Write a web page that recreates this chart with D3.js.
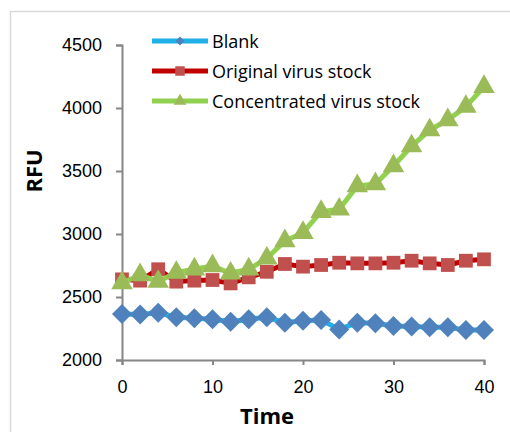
<!DOCTYPE html>
<html>
<head>
<meta charset="utf-8">
<script src="https://cdn.jsdelivr.net/npm/d3@7"></script>
<style>
  body { margin: 0; background: #fff; }
  svg { display: block; font-family: "Open Sans", "Liberation Sans", sans-serif; }
</style>
</head>
<body>
<svg id="chart" width="510" height="432"></svg>
<script>
// readings, time 0..40 step 2
var times = [0, 2, 4, 6, 8, 10, 12, 14, 16, 18, 20, 22, 24, 26, 28, 30, 32, 34, 36, 38, 40];
var blank = [2365, 2362, 2375, 2339, 2331, 2323, 2304, 2323, 2339, 2296, 2312,
             2317, 2243, 2296, 2291, 2270, 2265, 2259, 2259, 2238, 2238];
var original = [2640, 2630, 2720, 2622, 2630, 2635, 2608, 2656, 2700, 2762, 2741,
                2754, 2772, 2767, 2767, 2772, 2788, 2767, 2754, 2788, 2799];
var concentrated = [2611, 2675, 2622, 2694, 2720, 2746, 2688, 2720, 2807, 2945, 3010,
                    3177, 3196, 3381, 3397, 3540, 3698, 3825, 3905, 4011, 4169];
var seriesNames = ['Blank', 'Original virus stock', 'Concentrated virus stock'];
var yTicks = [2000, 2500, 3000, 3500, 4000, 4500];
var xTicks = [0, 10, 20, 30, 40];

var svg = d3.select('#chart');

// outer chart frame (right/bottom edges run off the picture)
svg.append('rect').attr('x', 10.5).attr('y', 11.5).attr('width', 520).attr('height', 440)
  .attr('fill', 'none').attr('stroke', '#d9d9d9').attr('stroke-width', 1.5);

var x = d3.scaleLinear().domain([0, 40]).range([122, 484]);
var y = d3.scaleLinear().domain([2000, 4500]).range([360, 45]);

var axisColor = '#868686';

var yAxis = svg.append('g').attr('transform', 'translate(122,0)')
  .call(d3.axisLeft(y).tickValues(yTicks).tickSize(6).tickPadding(14).tickFormat(d3.format('d')));
var xAxis = svg.append('g').attr('transform', 'translate(0,360)')
  .call(d3.axisBottom(x).tickValues(xTicks).tickSize(5).tickPadding(15));
[xAxis, yAxis].forEach(function(a) {
  a.select('.domain').attr('stroke', axisColor).attr('stroke-width', 2);
  a.selectAll('.tick line').attr('stroke', axisColor).attr('stroke-width', 2);
  a.selectAll('.tick text').attr('fill', '#000').style('font-size', '18px');
});

svg.append('text').attr('transform', 'translate(42,171) rotate(-90)')
  .attr('text-anchor', 'middle').style('font-size', '22px').style('font-weight', 'bold')
  .text('RFU');
svg.append('text').attr('x', 267).attr('y', 424)
  .attr('text-anchor', 'middle').style('font-size', '22px').style('font-weight', 'bold')
  .text('Time');

// diamond = square turned 45deg, Excel style (as wide as tall)
var series = [
  { name: seriesNames[0], values: blank, line: '#1fb0e8', fill: '#4f81bd', shape: d3.symbolSquare, rot: 45, size: 200, lsize: 40 },
  { name: seriesNames[1], values: original, line: '#c00000', fill: '#c0504d', shape: d3.symbolSquare, rot: 0, size: 190, lsize: 90 },
  { name: seriesNames[2], values: concentrated, line: '#92d050', fill: '#9bbb59', shape: d3.symbolTriangle, rot: 0, size: 200, lsize: 70 }
];

var line = d3.line().x(function(d) { return x(d[0]); }).y(function(d) { return y(d[1]); });

series.forEach(function(s) {
  var pts = times.map(function(t, i) { return [t, s.values[i]]; });
  var g = svg.append('g');
  g.append('path').datum(pts).attr('d', line).attr('fill', 'none')
    .attr('stroke', s.line).attr('stroke-width', 5).attr('stroke-linejoin', 'round');
  g.selectAll('path.mark').data(pts).enter().append('path').attr('class', 'mark')
    .attr('d', d3.symbol().type(s.shape).size(s.size))
    .attr('transform', function(d) {
      return 'translate(' + x(d[0]) + ',' + y(d[1]) + ') rotate(' + s.rot + ')';
    })
    .attr('fill', s.fill);
});

// legend
var leg = svg.append('g').selectAll('g').data(series).enter().append('g')
  .attr('transform', function(d, i) { return 'translate(152,' + (41 + 30 * i) + ')'; });
leg.append('line').attr('x1', 0).attr('x2', 56).attr('y1', 0).attr('y2', 0)
  .attr('stroke', function(d) { return d.line; }).attr('stroke-width', 5);
leg.append('path').attr('transform', function(d) { return 'translate(28,0) rotate(' + d.rot + ')'; })
  .attr('d', function(d) { return d3.symbol().type(d.shape).size(d.lsize)(); })
  .attr('fill', function(d) { return d.fill; });
leg.append('text').attr('x', 60).attr('y', 7)
  .style('font-size', '18px').attr('fill', '#000')
  .text(function(d) { return d.name; });
</script>
</body>
</html>
